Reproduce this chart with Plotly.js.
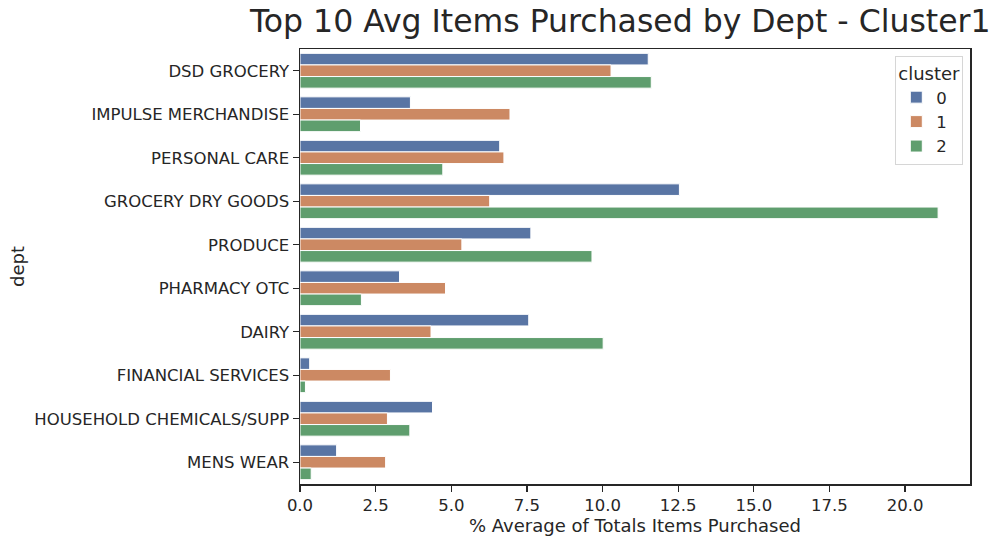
<!DOCTYPE html>
<html>
<head>
<meta charset="utf-8">
<script src="https://cdn.plot.ly/plotly-3.0.1.min.js"></script>
<style>html,body{margin:0;padding:0;background:#fff;}#chart{width:1005px;height:544px;}</style>
</head>
<body>
<div id="chart"></div>
<script>
const depts = ["DSD GROCERY","IMPULSE MERCHANDISE","PERSONAL CARE","GROCERY DRY GOODS","PRODUCE","PHARMACY OTC","DAIRY","FINANCIAL SERVICES","HOUSEHOLD CHEMICALS/SUPP","MENS WEAR"];
const clusters = ["0","1","2"];
const cluster0 = [11.51, 3.65, 6.60, 12.54, 7.63, 3.29, 7.56, 0.32, 4.38, 1.21];
const cluster1 = [10.28, 6.94, 6.74, 6.27, 5.35, 4.81, 4.33, 2.99, 2.89, 2.83];
const cluster2 = [11.61, 2.00, 4.72, 21.09, 9.65, 2.03, 10.02, 0.18, 3.63, 0.37];
const xTicks = [0, 2.5, 5, 7.5, 10, 12.5, 15, 17.5, 20];
const xTickText = ["0.0","2.5","5.0","7.5","10.0","12.5","15.0","17.5","20.0"];

const colors = ["#5975a4", "#cc8963", "#5f9e6e"];
const series = [cluster0, cluster1, cluster2];
const ink = "#262626";
const font = "DejaVu Sans, sans-serif";

const traces = series.map((vals, i) => ({
  type: "bar",
  orientation: "h",
  name: clusters[i],
  x: vals,
  y: depts,
  marker: {color: colors[i], line: {color: "#ffffff", width: 1}},
  hoverinfo: "x+y+name"
}));

const maxVal = Math.max(...cluster0, ...cluster1, ...cluster2);

const layout = {
  width: 1005, height: 544,
  margin: {l: 300, r: 35, t: 49, b: 60},
  paper_bgcolor: "#ffffff", plot_bgcolor: "#ffffff",
  font: {family: font, color: ink, size: 16.5},
  barmode: "group",
  bargap: 0.2, bargroupgap: 0,
  title: {text: "Top 10 Avg Items Purchased by Dept - Cluster1", font: {family: font, size: 31.5, color: ink},
          x: 0.478, xref: "paper", xanchor: "center", y: 0.962, yref: "container", yanchor: "middle"},
  xaxis: {
    range: [0, maxVal * 1.05],
    tickvals: xTicks, ticktext: xTickText,
    ticks: "outside", ticklen: 6, tickwidth: 1.25, tickcolor: ink,
    showline: true, linecolor: ink, linewidth: 1.5, mirror: true,
    showgrid: false, zeroline: false,
    tickfont: {size: 16.5, color: ink},
    title: {text: "% Average of Totals Items Purchased", font: {size: 18, color: ink}, standoff: 4}
  },
  yaxis: {
    type: "category",
    autorange: "reversed",
    ticks: "outside", ticklen: 6, tickwidth: 1.25, tickcolor: ink,
    showline: true, linecolor: ink, linewidth: 1.5, mirror: true,
    showgrid: false, zeroline: false,
    tickfont: {size: 16.5, color: ink},
    title: {text: "dept", font: {size: 18, color: ink}, standoff: 5}
  },
  legend: {
    title: {text: "cluster", font: {size: 18, color: ink}},
    x: 0.99, xanchor: "right", y: 0.985, yanchor: "top",
    bgcolor: "#ffffff", bordercolor: "#d6d6d6", borderwidth: 1,
    font: {size: 16.5, color: ink},
    traceorder: "normal"
  },
  showlegend: true
};

Plotly.newPlot("chart", traces, layout, {displayModeBar: false, staticPlot: true});
</script>
</body>
</html>
